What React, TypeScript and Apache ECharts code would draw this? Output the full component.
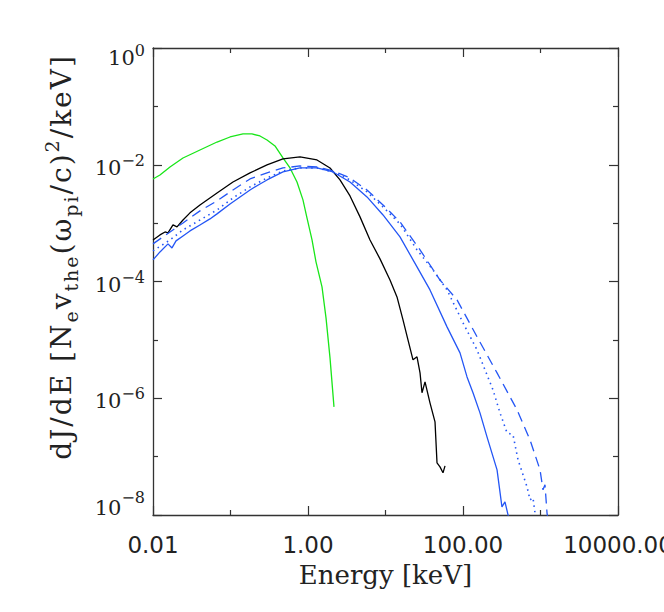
import React, { useEffect, useRef } from "react";
import * as echarts from "echarts";

// Tick labels (exponents of ten)
const xTickExponents = [-2, 0, 2, 4];
const yTickExponents = [-8, -6, -4, -2, 0];

// Y-axis title pieces: [style, text]
const yTitleParts: [string, string][] = [
  ["m", "dJ/dE [N"], ["sb", "e"], ["m", "v"], ["sb", "the"], ["m", "(ω"], ["sb", "pi"], ["m", "/c)"], ["sp", "2"], ["m", "/keV]"],
];
const xTitle = "Energy [keV]";

// Green curve
const greenEnergy = [0.01, 0.0123, 0.01656, 0.02437, 0.04036, 0.067, 0.0986, 0.145, 0.189, 0.24, 0.296, 0.375, 0.475, 0.586, 0.721, 0.861, 0.97, 1.127, 1.268, 1.516, 1.708, 1.923, 2.164];
const greenFlux = [5.71e-3, 6.69e-3, 9.17e-3, 1.306e-2, 1.79e-2, 2.45e-2, 2.99e-2, 3.37e-2, 3.37e-2, 3.11e-2, 2.66e-2, 2.1e-2, 1.31e-2, 8.81e-3, 5.07e-3, 2.5e-3, 1.23e-3, 5.15e-4, 2.17e-4, 8.09e-5, 2.38e-5, 4.92e-6, 7.13e-7];

// Black curve
const blackEnergy = [0.01, 0.0123, 0.01429, 0.01562, 0.01811, 0.0204, 0.02437, 0.03, 0.04036, 0.067, 0.1076, 0.1786, 0.2958, 0.4753, 0.789, 1.306, 1.923, 2.588, 3.483, 4.688, 6.31, 8.49, 11.43, 14.07, 16.82, 19.5, 22.64, 25.5, 27.9, 29.57, 32.36, 37.5, 43.54, 46.2, 50.5, 55.2, 58.6];
const blackFlux = [5.15e-4, 6.28e-4, 7.06e-4, 6.79e-4, 9.31e-4, 8.61e-4, 1.13e-3, 1.5e-3, 2.05e-3, 3.29e-3, 5.07e-3, 7.24e-3, 9.93e-3, 1.257e-2, 1.36e-2, 1.208e-2, 8.81e-3, 5.49e-3, 2.92e-3, 1.28e-3, 5.15e-4, 2.44e-4, 1.06e-4, 5.45e-5, 2.2e-5, 1.0e-5, 4.55e-6, 5.12e-6, 2.72e-6, 1.24e-6, 1.91e-6, 8.34e-7, 3.94e-7, 7.83e-8, 6.68e-8, 5.28e-8, 6.95e-8];

// Blue solid curve
const blueSolidEnergy = [0.01, 0.0123, 0.01562, 0.01758, 0.01982, 0.02437, 0.03, 0.04036, 0.0543, 0.067, 0.0986, 0.1327, 0.1786, 0.2404, 0.2958, 0.4753, 0.789, 1.306, 2.104, 3.483, 5.77, 9.29, 15.38, 25.5, 37.5, 62.2, 91.5, 112.7, 134.6, 165.6, 204, 275, 318, 348, 381, 393];
const blueSolidFlux = [2.34e-4, 3.21e-4, 4.41e-4, 3.76e-4, 4.96e-4, 6.04e-4, 7.35e-4, 9.31e-4, 1.18e-3, 1.44e-3, 2.13e-3, 2.81e-3, 3.7e-3, 4.69e-3, 5.49e-3, 7.53e-3, 8.81e-3, 8.81e-3, 7.53e-3, 5.07e-3, 2.81e-3, 1.38e-3, 5.81e-4, 1.78e-4, 7.18e-5, 1.67e-5, 5.99e-6, 2.32e-6, 1.24e-6, 5.62e-7, 2.18e-7, 5.94e-8, 1.38e-8, 1.68e-8, 1.007e-8, 8.28e-9];

// Blue dotted curve
const blueDottedEnergy = [0.01, 0.01656, 0.02437, 0.04036, 0.067, 0.1076, 0.1786, 0.2958, 0.4753, 0.789, 1.306, 2.104, 3.483, 5.77, 9.29, 15.38, 25.5, 41.0, 62.2, 100, 151.7, 244, 300, 370, 442, 513, 670, 732, 800, 849, 875];
const blueDottedFlux = [3.34e-4, 5.15e-4, 7.65e-4, 1.13e-3, 1.68e-3, 2.7e-3, 4.17e-3, 5.94e-3, 7.83e-3, 8.81e-3, 8.81e-3, 7.53e-3, 5.49e-3, 3.42e-3, 1.89e-3, 9.69e-4, 3.48e-4, 1.58e-4, 7.18e-5, 1.96e-5, 6.74e-6, 1.39e-6, 5.62e-7, 2.56e-7, 2.36e-7, 8.81e-8, 3.04e-8, 1.82e-8, 1.97e-8, 1.09e-8, 8.28e-9];

// Blue dashed curve
const blueDashedEnergy = [0.01, 0.02437, 0.04036, 0.067, 0.1076, 0.1786, 0.2958, 0.4753, 0.789, 1.306, 2.104, 3.483, 5.77, 9.29, 15.38, 27.9, 50.5, 83.8, 151.7, 275, 498, 732, 986, 1077, 1143, 1213, 1250];
const blueDashedFlux = [4.41e-4, 1.007e-3, 1.62e-3, 2.4e-3, 3.7e-3, 5.71e-3, 7.24e-3, 8.81e-3, 9.53e-3, 9.17e-3, 7.83e-3, 5.94e-3, 3.7e-3, 2.05e-3, 1.05e-3, 3.48e-4, 1.06e-4, 4.84e-5, 1.13e-5, 2.72e-6, 6.33e-7, 1.94e-7, 5.94e-8, 2.7e-8, 3.29e-8, 1.09e-8, 8.28e-9];

const toLog = (xs: number[], ys: number[]) => xs.map((x, i) => [Math.log10(x), Math.log10(ys[i])]);

const AXIS_COLOR = "#333";
const TEXT = "#222";
const GREEN = "#19e619";
const BLUE = "#2456f5";

export default function App() {
  const ref = useRef<HTMLDivElement>(null);
  useEffect(() => {
    if (!ref.current) return;
    const chart = echarts.init(ref.current, null, { renderer: "svg" });
    const xMin = xTickExponents[0];
    const xMax = xTickExponents[xTickExponents.length - 1];
    const yMin = yTickExponents[0];
    const yMax = yTickExponents[yTickExponents.length - 1];
    const line = { show: true, onZero: false, lineStyle: { color: AXIS_COLOR, width: 1.3 } };
    const tick = { show: true, inside: true, length: 9, lineStyle: { color: AXIS_COLOR, width: 1.2 } };
    const minor = { show: true, splitNumber: 2, length: 5, lineStyle: { color: AXIS_COLOR, width: 1.2 } };
    const xBase = { type: "value", min: xMin, max: xMax, interval: 2, axisLine: line, axisTick: tick, minorTick: minor, splitLine: { show: false } };
    const yBase = { type: "value", min: yMin, max: yMax, interval: 2, axisLine: line, axisTick: tick, minorTick: minor, splitLine: { show: false } };
    const lineSeries = (data: number[][], color: string, type: any, width = 1.3) => ({
      type: "line",
      data,
      showSymbol: false,
      symbol: "none",
      clip: true,
      lineStyle: { color, width, type },
      xAxisIndex: 0,
      yAxisIndex: 0,
    });
    const serif = "DejaVu Serif";
    const yLabelFmt = (v: number) => {
      const e = Math.round(v);
      const s = e < 0 ? "\u2212" + Math.abs(e) : String(e);
      const k = e === yMax ? "t" : e === yMin ? "m" : "n";
      return `{b${k}|10}{s${k}|${s}}`;
    };
    const base = { fontFamily: serif, fontSize: 21, lineHeight: 22, color: TEXT };
    const sup = { fontFamily: serif, fontSize: 16, lineHeight: 16, color: TEXT };

    // y title as rich text, one token per character for wider spacing
    const yTitleRich = yTitleParts
      .map(([st, txt]) => Array.from(txt).map((c) => `{${st}|${c}}`).join(""))
      .join("");

    chart.setOption({
      animation: false,
      backgroundColor: "#fff",
      grid: { left: 153, right: 46, top: 48, bottom: 97, containLabel: false, outerBoundsMode: "none" },
      xAxis: [
        {
          ...xBase,
          position: "bottom",
          name: xTitle,
          nameLocation: "middle",
          nameGap: 47,
          nameTextStyle: { fontFamily: serif, fontSize: 26, color: TEXT },
          axisLabel: {
            margin: 18,
            fontFamily: "DejaVu Sans",
            fontSize: 23,
            color: TEXT,
            formatter: (v: number) => Math.pow(10, v).toFixed(2),
          },
        },
        { ...xBase, position: "top", axisLabel: { show: false } },
      ],
      yAxis: [
        {
          ...yBase,
          position: "left",
          axisLabel: {
            margin: 8,
            fontFamily: serif,
            fontSize: 21,
            color: TEXT,
            formatter: yLabelFmt,
            rich: {
              bn: { ...base, padding: [6, 0, 0, 0] },
              sn: { ...sup, padding: [0, 0, 9, 0] },
              bt: { ...base, padding: [20, 0, 0, 0] },
              st: { ...sup, padding: [4, 0, 0, 0] },
              bm: { ...base, padding: [0, 0, 15, 0] },
              sm: { ...sup, padding: [0, 0, 36, 0] },
            },
          },
        },
        { ...yBase, position: "right", axisLabel: { show: false } },
      ],
      graphic: [
        {
          type: "text",
          x: 61,
          y: 258,
          rotation: Math.PI / 2,
          silent: true,
          style: {
            text: yTitleRich,
            align: "center",
            verticalAlign: "middle",
            fill: TEXT,
            fontFamily: serif,
            fontSize: 28,
            rich: {
              m: { fontFamily: serif, fontSize: 28, lineHeight: 38, verticalAlign: "middle", fill: TEXT, padding: [0, 1, 0, 1] },
              sb: { fontFamily: serif, fontSize: 19, lineHeight: 19, verticalAlign: "bottom", fill: TEXT, padding: [0, 1, 0, 1] },
              sp: { fontFamily: serif, fontSize: 19, lineHeight: 19, verticalAlign: "top", fill: TEXT, padding: [0, 1, 0, 1] },
            },
          },
        },
      ],
      series: [
        lineSeries(toLog(greenEnergy, greenFlux), GREEN, "solid"),
        lineSeries(toLog(blackEnergy, blackFlux), "#000", "solid"),
        lineSeries(toLog(blueSolidEnergy, blueSolidFlux), BLUE, "solid"),
        lineSeries(toLog(blueDottedEnergy, blueDottedFlux), BLUE, [1.5, 4], 1.6),
        lineSeries(toLog(blueDashedEnergy, blueDashedFlux), BLUE, [10, 6]),
      ],
    });
    return () => chart.dispose();
  }, []);
  return <div ref={ref} style={{ position: "fixed", left: 0, top: 0, width: 664, height: 612 }} />;
}
